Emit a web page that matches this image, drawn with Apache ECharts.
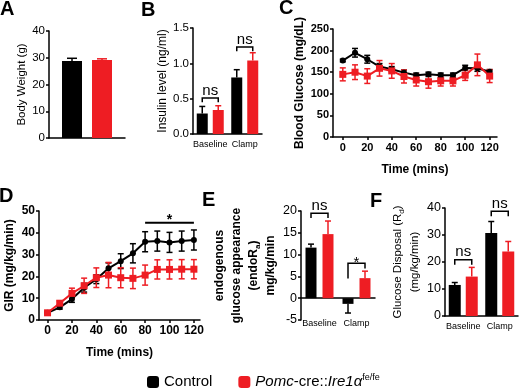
<!DOCTYPE html>
<html>
<head>
<meta charset="utf-8">
<title>Clamp study</title>
<script src="https://cdn.jsdelivr.net/npm/echarts@6/dist/echarts.min.js"></script>
<style>
  html, body { margin: 0; padding: 0; background: #fff; }
  #main { width: 520px; height: 389px; }
</style>
</head>
<body>
<div id="main"></div>
<script>
// groups + shared categories
const groupNames = ['Control', 'Pomc-cre::Ire1α fe/fe']
const barCats = ['Baseline', 'Clamp']
const timePoints = [0, 10, 20, 30, 40, 50, 60, 70, 80, 90, 100, 110, 120]
const timeTicks = [0, 20, 40, 60, 80, 100, 120]

// A body weight (g)
const bwCtrl = [28.8]
const bwCtrlErr = [1.0]
const bwKo = [29.2]
const bwKoErr = [0.4]

// B insulin (ng/ml)
const insCtrl = [0.29, 0.80]
const insCtrlErr = [0.10, 0.11]
const insKo = [0.34, 1.04]
const insKoErr = [0.06, 0.11]

// C blood glucose (mg/dL)
const bgCtrl = [177, 195, 180, 163, 157, 149, 143, 145, 143, 143, 160, 159, 151]
const bgCtrlErr = [3, 10, 9, 7, 6, 6, 5, 5, 5, 5, 6, 7, 5]
const bgKo = [145, 150, 141, 159, 153, 140, 132, 128, 130, 130, 143, 167, 141]
const bgKoErr = [15, 17, 17, 18, 17, 15, 14, 15, 12, 12, 12, 25, 15]

// D GIR (mg/kg/min)
const girCtrl = [3.3, 5.8, 9.6, 14.8, 18.7, 23.7, 27, 30.6, 35.9, 36.2, 35.6, 36.2, 36.7]
const girCtrlErr = [0.5, 0.8, 1.5, 2, 2, 2.5, 3.4, 4.4, 4.6, 4.6, 4.6, 4.6, 4.6]
const girKo = [3.3, 7.7, 12.2, 15.7, 19.4, 20.6, 19.4, 19.1, 20.6, 23.2, 23.2, 23.3, 23.3]
const girKoErr = [0.3, 1, 2.4, 3.5, 4.5, 5.8, 4.6, 4.7, 4.6, 4.4, 4.4, 4.4, 4.4]
const girSig = [[80, 120, 44.6]]
const girSigLabels = ['*']

// E endogenous Ra
const raCtrl = [11.6, -1.3]
const raCtrlErr = [0.8, 2.1]
const raKo = [14.7, 4.6]
const raKoErr = [3, 1.6]

// F glucose disposal Rd
const rdCtrl = [11.5, 30.7]
const rdCtrlErr = [0.9, 4.3]
const rdKo = [14.6, 23.9]
const rdKoErr = [3.4, 3.7]

// brackets: [category, top, left leg end, right leg end]
const insBrackets = [[0, 0.51, 0.45, 0.45], [1, 1.23, 1.17, 1.17]]
const insBracketLabels = ['ns', 'ns']
const raBrackets = [[0, 19.5, 18.4, 18.4], [1, 8.0, 4.5, 6.8]]
const raBracketLabels = ['ns', '*']
const rdBrackets = [[0, 20.8, 19.0, 19.0], [1, 38.8, 36.9, 36.9]]
const rdBracketLabels = ['ns', 'ns']

const font = "'Liberation Sans', Arial, Helvetica, sans-serif"
const black = '#000'
const red = '#ee1d23'

const zip = (xs, ys, es) => xs.map((x, i) => [x, ys[i], es[i]])
const idx = (ys, es) => ys.map((y, i) => [i, y, es[i]])

// error bar drawer; twoSided for line charts, else away from zero
function errItem(offset, cap, twoSided, color) {
  return function (params, api) {
    const x = api.value(0)
    const y = api.value(1)
    const e = api.value(2)
    const c = api.coord([x, y])
    const cx = c[0] + offset
    let y1, y2
    if (twoSided) {
      y1 = api.coord([x, y + e])[1]
      y2 = api.coord([x, y - e])[1]
    } else {
      y1 = c[1]
      y2 = api.coord([x, y >= 0 ? y + e : y - e])[1]
    }
    const st = { stroke: color, lineWidth: 1.5 }
    const kids = [
      { type: 'line', shape: { x1: cx, y1: y1, x2: cx, y2: y2 }, style: st },
      { type: 'line', shape: { x1: cx - cap / 2, y1: y2, x2: cx + cap / 2, y2: y2 }, style: st }
    ]
    if (twoSided) {
      kids.push({ type: 'line', shape: { x1: cx - cap / 2, y1: y1, x2: cx + cap / 2, y2: y1 }, style: st })
    }
    return { type: 'group', children: kids }
  }
}

function bracketItem(offset, labels) {
  return function (params, api) {
    const c = api.value(0)
    const top = api.coord([c, api.value(1)])
    const l = api.coord([c, api.value(2)])
    const r = api.coord([c, api.value(3)])
    const x1 = top[0] - offset
    const x2 = top[0] + offset
    const star = labels[params.dataIndex] === '*'
    return {
      type: 'group',
      children: [
        { type: 'polyline', shape: { points: [[x1, l[1]], [x1, top[1]], [x2, top[1]], [x2, r[1]]] }, style: { stroke: black, lineWidth: 1.5, fill: null } },
        { type: 'text', style: { text: labels[params.dataIndex], x: (x1 + x2) / 2, y: top[1] + (star ? 7 : 0), align: 'center', verticalAlign: 'bottom', font: '15px ' + font, fill: black } }
      ]
    }
  }
}

function sigItem(labels) {
  return function (params, api) {
    const a = api.coord([api.value(0), api.value(2)])
    const b = api.coord([api.value(1), api.value(2)])
    return {
      type: 'group',
      children: [
        { type: 'line', shape: { x1: a[0], y1: a[1], x2: b[0], y2: b[1] }, style: { stroke: black, lineWidth: 2 } },
        { type: 'text', style: { text: labels[params.dataIndex], x: (a[0] + b[0]) / 2, y: a[1] + 4, align: 'center', verticalAlign: 'bottom', font: 'bold 14px ' + font, fill: black } }
      ]
    }
  }
}

// 2-series bar panel with error bars
function barPanel(ax, ctrl, ctrlErr, ko, koErr, bw, gap, cap) {
  const off = (bw + gap) / 2
  const base = { type: 'bar', xAxisIndex: ax, yAxisIndex: ax, barWidth: bw, barGap: (gap / bw * 100) + '%' }
  return [
    Object.assign({}, base, { name: groupNames[0], data: ctrl, itemStyle: { color: black } }),
    Object.assign({}, base, { name: groupNames[1], data: ko, itemStyle: { color: red } }),
    { type: 'custom', xAxisIndex: ax, yAxisIndex: ax, renderItem: errItem(-off, cap, false, black), data: idx(ctrl, ctrlErr), z: 3 },
    { type: 'custom', xAxisIndex: ax, yAxisIndex: ax, renderItem: errItem(off, cap, false, red), data: idx(ko, koErr), z: 3 }
  ]
}

function linePanel(ax, ctrl, ctrlErr, ko, koErr) {
  return [
    { type: 'line', name: groupNames[0], xAxisIndex: ax, yAxisIndex: ax, data: zip(timePoints, ctrl, ctrlErr).map(d => [d[0], d[1]]), symbol: 'circle', symbolSize: 6, itemStyle: { color: black }, lineStyle: { color: black, width: 2 } },
    { type: 'custom', xAxisIndex: ax, yAxisIndex: ax, renderItem: errItem(0, 6, true, black), data: zip(timePoints, ctrl, ctrlErr), z: 2 },
    { type: 'line', name: groupNames[1], xAxisIndex: ax, yAxisIndex: ax, data: zip(timePoints, ko, koErr).map(d => [d[0], d[1]]), symbol: 'rect', symbolSize: 7, itemStyle: { color: red }, lineStyle: { color: red, width: 2 }, z: 3 },
    { type: 'custom', xAxisIndex: ax, yAxisIndex: ax, renderItem: errItem(0, 6, true, red), data: zip(timePoints, ko, koErr), z: 3 }
  ]
}

const axLine = { show: true, onZero: false, lineStyle: { color: black, width: 1.5 } }
const axTick = { show: true, length: 3, lineStyle: { color: black, width: 1.5 } }

function yAxis(grid, min, max, interval, name, fs, o) {
  return Object.assign({
    type: 'value', gridIndex: grid, min: min, max: max, interval: interval,
    splitLine: { show: false }, axisLine: axLine, axisTick: axTick,
    axisLabel: { color: black, fontSize: fs, margin: 4, fontFamily: font },
    name: name, nameLocation: 'middle', nameRotate: 90,
    nameTextStyle: { color: black, fontSize: 11.5, fontFamily: font }
  }, o)
}

function catAxis(grid, data, o) {
  return Object.assign({
    type: 'category', gridIndex: grid, data: data, position: 'bottom',
    axisLine: axLine, axisTick: { show: false },
    axisLabel: { color: black, fontSize: 9, margin: 6, interval: 0, fontFamily: font }
  }, o)
}

function timeAxis(grid, min, max, fs) {
  return {
    type: 'value', gridIndex: grid, min: min, max: max,
    splitLine: { show: false }, axisLine: axLine,
    axisTick: Object.assign({}, axTick, { customValues: timeTicks }),
    axisLabel: { color: black, fontSize: fs, fontWeight: 'bold', margin: 5, fontFamily: font, customValues: timeTicks },
    name: 'Time (mins)', nameLocation: 'middle', nameGap: 27,
    nameTextStyle: { color: black, fontSize: 12, fontWeight: 'bold', fontFamily: font }
  }
}

const letters = [['A', 0, -1], ['B', 141, 0], ['C', 279, -2], ['D', -1, 186], ['E', 202, 190], ['F', 370, 191]]

const option = {
  animation: false,
  backgroundColor: '#fff',
  textStyle: { fontFamily: font },
  title: letters.map(l => ({ text: l[0], left: l[1], top: l[2], padding: 0, textStyle: { fontSize: 20, fontWeight: 'bold', color: black, fontFamily: font } })),
  legend: {
    left: 142, top: 368, itemWidth: 12, itemHeight: 12, itemGap: 26,
    selectedMode: false,
    data: groupNames.map(n => ({ name: n, icon: 'roundRect' })),
    textStyle: {
      color: black, fontSize: 15, fontFamily: font,
      rich: {
        i: { fontStyle: 'italic', fontSize: 15, fontFamily: font, color: black },
        n: { fontSize: 15, fontFamily: font, color: black },
        sup: { fontSize: 9, fontFamily: font, color: black, verticalAlign: 'top', padding: [0, 0, 9, 0] }
      }
    },
    formatter: function (name) {
      return name === groupNames[0] ? name : '{i|Pomc}{n|-cre::}{i|Ire1α}{sup|fe/fe}'
    }
  },
  grid: [
    { left: 49, top: 31, width: 76, height: 107 },
    { left: 193, top: 28, width: 69, height: 106 },
    { left: 333, top: 29, width: 164, height: 108 },
    { left: 39, top: 211, width: 161, height: 109 },
    { left: 301, top: 211, width: 74, height: 109 },
    { left: 445, top: 208, width: 73, height: 108 }
  ],
  xAxis: [
    catAxis(0, [''], { axisLabel: { show: false } }),
    catAxis(1, barCats),
    timeAxis(2, -8, 126, 11),
    timeAxis(3, -7, 125, 12),
    catAxis(4, barCats, { axisLine: { show: false, onZero: false }, axisLabel: { color: black, fontSize: 9, margin: -1, interval: 0, fontFamily: font } }),
    catAxis(5, barCats),
    catAxis(4, barCats, { axisLine: { show: true, onZero: true, lineStyle: { color: black, width: 1.5 } }, axisLabel: { show: false } })
  ],
  yAxis: [
    yAxis(0, 0, 40, 10, 'Body Weight (g)', 11.5, { nameGap: 19 }),
    yAxis(1, 0, 1.5, 0.5, 'Insulin level (ng/ml)', 11.5, {
      nameGap: 23,
      axisLabel: { color: black, fontSize: 11.5, margin: 4, fontFamily: font, formatter: v => v.toFixed(1) },
      nameTextStyle: { color: black, fontSize: 12, fontFamily: font }
    }),
    yAxis(2, 0, 250, 50, 'Blood Glucose (mg/dL)', 11, {
      nameGap: 27,
      axisLabel: { color: black, fontSize: 11, fontWeight: 'bold', margin: 4, fontFamily: font },
      nameTextStyle: { color: black, fontSize: 12, fontWeight: 'bold', fontFamily: font }
    }),
    yAxis(3, 0, 50, 10, 'GIR (mg/kg/min)', 12, {
      nameGap: 23,
      axisLabel: { color: black, fontSize: 12, fontWeight: 'bold', margin: 4, fontFamily: font },
      nameTextStyle: { color: black, fontSize: 12, fontWeight: 'bold', fontFamily: font }
    }),
    yAxis(4, -5, 20, 5, 'endogenous\nglucose appearance\n(endoR{sub|a})\nmg/kg/min', 12.5, {
      nameGap: 19,
      nameTextStyle: {
        color: black, fontSize: 12, fontWeight: 'bold', fontFamily: font, lineHeight: 17,
        rich: { sub: { fontSize: 8, fontWeight: 'bold', fontFamily: font, color: black, verticalAlign: 'bottom', padding: [6, 0, 0, 0] } }
      }
    }),
    yAxis(5, 0, 40, 10, 'Glucose Disposal (R{sub|d})\n(mg/kg/min)', 12.5, {
      nameGap: 19,
      nameTextStyle: {
        color: black, fontSize: 11.5, fontFamily: font, lineHeight: 17,
        rich: { sub: { fontSize: 8, fontFamily: font, color: black, verticalAlign: 'bottom', padding: [6, 0, 0, 0] } }
      }
    })
  ],
  series: [].concat(
    barPanel(0, bwCtrl, bwCtrlErr, bwKo, bwKoErr, 20, 10, 10),
    barPanel(1, insCtrl, insCtrlErr, insKo, insKoErr, 11, 5, 6),
    [{ type: 'custom', xAxisIndex: 1, yAxisIndex: 1, renderItem: bracketItem(8, insBracketLabels), data: insBrackets, z: 4 }],
    linePanel(2, bgCtrl, bgCtrlErr, bgKo, bgKoErr),
    linePanel(3, girCtrl, girCtrlErr, girKo, girKoErr),
    [{ type: 'custom', xAxisIndex: 3, yAxisIndex: 3, renderItem: sigItem(girSigLabels), data: girSig, z: 4 }],
    barPanel(4, raCtrl, raCtrlErr, raKo, raKoErr, 11, 6, 6),
    [{ type: 'custom', xAxisIndex: 4, yAxisIndex: 4, renderItem: bracketItem(8.5, raBracketLabels), data: raBrackets, z: 4 }],
    barPanel(5, rdCtrl, rdCtrlErr, rdKo, rdKoErr, 12, 5, 6),
    [{ type: 'custom', xAxisIndex: 5, yAxisIndex: 5, renderItem: bracketItem(8.5, rdBracketLabels), data: rdBrackets, z: 4 }]
  )
}

const chart = echarts.init(document.getElementById('main'), null, { renderer: 'canvas' })
chart.setOption(option)
</script>
</body>
</html>
